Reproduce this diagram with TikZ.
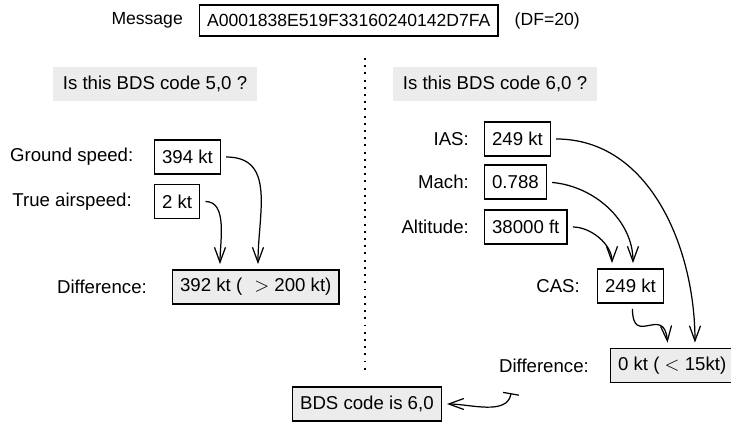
\documentclass[tikz,border=0pt]{standalone}
\usepackage{fontspec}
\setmainfont{Liberation Sans}
\usetikzlibrary{arrows.meta,positioning}

\begin{document}
\begin{tikzpicture}[
x=0.02cm, y=-0.02cm,
font=\fontsize{10.6pt}{12.7pt}\selectfont,
msgfont/.style={font=\fontsize{10pt}{12pt}\selectfont},
valbox/.style={draw,line width=0.7pt,anchor=west,minimum height=0.68cm,inner xsep=0.15cm},
resbox/.style={valbox,fill=gray!15},
question/.style={fill=gray!15,minimum width=4.08cm,minimum height=0.68cm},
feed/.style={->,line width=0.7pt,shorten >=3pt,shorten <=3pt,>={Straight Barb[length=0.3cm,width=0.22cm]}}]
    \useasboundingbox (0,0) rectangle (731,422);

    % Message
    \node (msg) [valbox,msgfont,minimum height=0.62cm] at (199,20.5) {A0001838E519F33160240142D7FA};
    \node (msglbl) [msgfont,left=0.2cm of msg] {Message};
    \node (df) [msgfont,right=0.2cm of msg] {(DF=20)};

    % Separator
    \draw[line width=1.1pt,dash pattern=on 1.1pt off 3pt] (365,58) -- (365,373);

    % BDS 5,0
    \node (q50) [question] at (155,84) {Is this BDS code 5,0 ?};
    \node (gs) [valbox] at (154,157) {394 kt};
    \node (tas) [valbox] at (154,201.5) {2 kt};
    \node (diffL) [resbox] at (172,287) {392 kt (\hspace{0.65em}$>$ 200 kt)};
    \node (gslbl) [left=0.29cm of gs] {Ground speed:};
    \node (taslbl) [left=0.32cm of tas] {True airspeed:};
    \node (difflblL) [left=0.38cm of diffL] {Difference:};

    \draw[feed] (gs.east) to[out=0,in=90,looseness=1.2] ([xshift=1.72cm]diffL.north west);
    \draw[feed] (tas.east) to[out=0,in=90] ([xshift=0.96cm]diffL.north west);

    % BDS 6,0
    \node (q60) [question] at (495,84) {Is this BDS code 6,0 ?};
    \node (ias) [valbox] at (484,139) {249 kt};
    \node (mach) [valbox] at (484,182) {0.788};
    \node (alt) [valbox] at (484,227) {38000 ft};
    \node (cas) [valbox] at (597,286) {249 kt};
    \node (diffR) [resbox] at (610,365.5) {0 kt ( $<$ 15kt)};
    \node (iaslbl) [left=0.18cm of ias] {IAS:};
    \node (machlbl) [left=0.18cm of mach] {Mach:};
    \node (altlbl) [left=0.18cm of alt] {Altitude:};
    \node (caslbl) [left=0.22cm of cas] {CAS:};
    \node (difflblR) [left=0.3cm of diffR] {Difference:};

    \draw[feed] (ias.east) to[out=0,in=90] ([xshift=1.7cm]diffR.north west);
    \draw[feed] (mach.east) to[out=-5,in=90] ([xshift=0.72cm]cas.north west);
    \draw[feed] (alt.east) to[out=0,in=90] ([xshift=0.3cm]cas.north west);
    \draw[feed] ([xshift=0.04cm]cas.south) to[out=-90,in=95,looseness=2] ([xshift=1.16cm]diffR.north west);

    % Result
    \node (bds) [resbox] at (292,404) {BDS code is 6,0};
    \coordinate (res) at (512,388);
    \draw[feed,{Bar[width=0.32cm]}->] (res) to[out=-100,in=0] (bds.east);

\end{tikzpicture}
\end{document}
